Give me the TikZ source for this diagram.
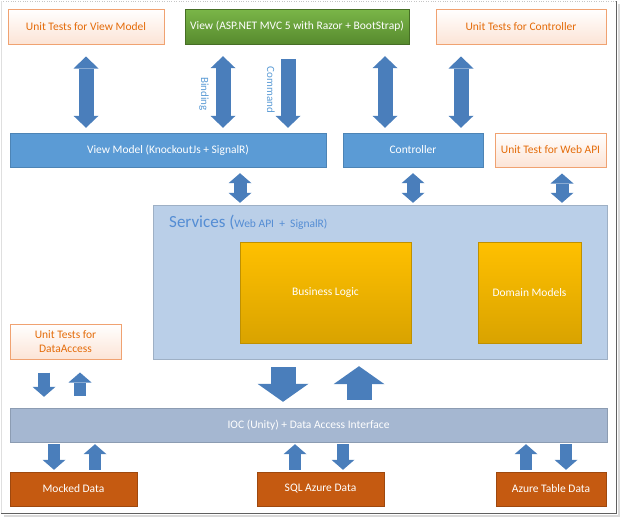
\documentclass[tikz,border=0pt]{standalone}
\usepackage{fontspec}
\setmainfont{Carlito}
\usetikzlibrary{arrows.meta,shadows}

\definecolor{arrowblue}{HTML}{4A7EBB}
\definecolor{testline}{HTML}{F0A271}
\definecolor{testfill}{HTML}{FCE4D6}
\definecolor{testtext}{HTML}{E46C0A}
\definecolor{viewtop}{HTML}{7AB648}
\definecolor{viewbot}{HTML}{578A2E}
\definecolor{barblue}{HTML}{5B9BD5}
\definecolor{servfill}{HTML}{BACFE8}
\definecolor{servtext}{HTML}{548DD4}
\definecolor{goldtop}{HTML}{FFC000}
\definecolor{goldbot}{HTML}{D9A300}
\definecolor{goldline}{HTML}{BF9000}
\definecolor{iocfill}{HTML}{A5B7D1}
\definecolor{datafill}{HTML}{C55A11}

\tikzset{
  box/.style={inner sep=1pt, align=center, font=\fontsize{11.5}{13.5}\selectfont,
    drop shadow={shadow xshift=1.2pt, shadow yshift=-1.2pt, opacity=0.35}},
  testbox/.style={box, draw=testline, line width=1pt, top color=white, bottom color=testfill, text=testtext, minimum height=35pt},
  viewbox/.style={box, draw=viewbot!80!black, top color=viewtop, bottom color=viewbot, text=white, minimum height=35pt},
  bluebar/.style={box, fill=barblue, draw=barblue!85!black, text=white, minimum height=34pt},
  servbox/.style={box, fill=servfill, draw=servfill!85!black},
  goldbox/.style={box, draw=goldline, top color=goldtop, bottom color=goldbot, text=white, minimum height=101pt},
  iocbar/.style={box, fill=iocfill, draw=iocfill!85!black, text=white, minimum height=34pt},
  databox/.style={box, fill=datafill, draw=datafill!80!black, text=white, minimum height=34pt},
  lbl/.style={text=barblue, font=\fontsize{11}{13}\selectfont, inner sep=0pt},
  dblarrow/.style={draw=arrowblue, line width=15pt,
    {Triangle[width=25pt,length=12pt,line width=0pt]}-{Triangle[width=25pt,length=12pt,line width=0pt]}},
  cmdarrow/.style={draw=arrowblue, line width=15pt, -{Triangle[width=25pt,length=12pt,line width=0pt]}},
  middbl/.style={draw=arrowblue, line width=13pt,
    {Triangle[width=23pt,length=10pt,line width=0pt]}-{Triangle[width=23pt,length=10pt,line width=0pt]}},
  smallarrow/.style={draw=arrowblue, line width=12pt, -{Triangle[width=23pt,length=10pt,line width=0pt]}},
  bigarrow/.style={draw=arrowblue, line width=25pt, -{Triangle[width=51pt,length=18pt,line width=0pt]}}
}

\begin{document}
\begin{tikzpicture}[x=1pt,y=1pt,yscale=-1,xscale=1]
\useasboundingbox (0,0) rectangle (621,520);

% Frame
\draw[gray!45, dotted] (1,1) -- (616,1);
\draw[gray!25] (1,1) -- (1,513);
\draw[gray!30, line width=2pt] (619,4) -- (619,516) -- (4,516);
\draw[gray!75!black, line width=1pt] (616,1) -- (616,513) -- (1,513);

% Top row
\node[testbox, minimum width=156pt] (utvm) at (86,26.5) {Unit Tests for View Model};
\node[viewbox, minimum width=224pt] (view) at (297,26.5) {View (ASP.NET MVC 5 with Razor + BootStrap)};
\node[testbox, minimum width=170pt] (utctrl) at (521,26.5) {Unit Tests for Controller};

% Second row
\node[bluebar, minimum width=316pt] (vm) at (168,150) {View Model (KnockoutJs + SignalR)};
\node[bluebar, minimum width=140pt] (ctrl) at (413,150) {Controller};
\node[testbox, minimum width=111pt, minimum height=34pt] (utapi) at (550.5,150) {Unit Test for Web API};

% Services
\node[servbox, minimum width=454pt, minimum height=154pt] (serv) at (380,282) {};
\node[anchor=west, text=servtext, inner sep=0pt] (servtitle) at (169,222)
  {\fontsize{17}{19}\selectfont Services (\fontsize{11.5}{13.5}\selectfont Web API\ \ +\ \ SignalR)};
\node[goldbox, minimum width=171pt] (bl) at (325.5,292.5) {Business Logic};
\node[goldbox, minimum width=103pt] (dm) at (529.5,292.5) {Domain Models};
\node[testbox, minimum width=111pt] (utda) at (65.5,341.5) {Unit Tests for\\DataAccess};

% Data access
\node[iocbar, minimum width=597pt] (ioc) at (308.5,425) {IOC (Unity) + Data Access Interface};
\node[databox, minimum width=127pt] (mock) at (73.5,489) {Mocked Data};
\node[databox, minimum width=127pt] (sql) at (320.5,489) {SQL Azure Data};
\node[databox, minimum width=110pt] (table) at (551,489) {Azure Table Data};

% Arrow positions
\coordinate (bind) at ([xshift=-74pt]view.south);
\coordinate (cmd) at ([xshift=-9pt]view.south);
\coordinate (vctl) at ([xshift=-28pt]ctrl.north);
\coordinate (tctl) at ([xshift=-60pt]utctrl.south);
\coordinate (vmsv) at ([xshift=72pt]vm.south);
\coordinate (apisv) at ([xshift=11.5pt]utapi.south);
\coordinate (dadn) at ([xshift=-21.5pt]utda.south);
\coordinate (daup) at ([xshift=14.5pt]utda.south);
\coordinate (svdn) at ([xshift=-25.5pt]ioc.north);
\coordinate (svup) at ([xshift=50.5pt]ioc.north);
\coordinate (mkdn) at ([xshift=-19.5pt]mock.north);
\coordinate (mkup) at ([xshift=21.5pt]mock.north);
\coordinate (squp) at ([xshift=-25.5pt]sql.north);
\coordinate (sqdn) at ([xshift=22.5pt]sql.north);
\coordinate (tbup) at ([xshift=-25pt]table.north);
\coordinate (tbdn) at ([xshift=15pt]table.north);

% Arrows
\draw[dblarrow, shorten <=12pt, shorten >=5pt] (utvm.south) -- (utvm.south |- vm.north);
\draw[dblarrow, shorten <=12pt, shorten >=5pt] (bind) -- (bind |- vm.north);
\draw[cmdarrow, shorten <=15pt, shorten >=5pt] (cmd) -- (cmd |- vm.north);
\draw[dblarrow, shorten <=12pt, shorten >=5pt] (vctl |- view.south) -- (vctl);
\draw[dblarrow, shorten <=12pt, shorten >=5pt] (tctl) -- (tctl |- ctrl.north);
\draw[middbl, shorten <=6pt, shorten >=2pt] (vmsv) -- (vmsv |- serv.north);
\draw[middbl, shorten <=6pt, shorten >=2pt] (ctrl.south) -- (ctrl.south |- serv.north);
\draw[middbl, shorten <=6pt, shorten >=2pt] (apisv) -- (apisv |- serv.north);
\draw[smallarrow, shorten <=13pt, shorten >=11pt] (dadn) -- (dadn |- ioc.north);
\draw[smallarrow, shorten <=12pt, shorten >=13pt] (daup |- ioc.north) -- (daup);
\draw[bigarrow, shorten <=8pt, shorten >=6pt] (svdn |- serv.south) -- (svdn);
\draw[bigarrow, shorten <=8pt, shorten >=7pt] (svup) -- (svup |- serv.south);
\draw[smallarrow, shorten <=2pt, shorten >=2pt] (mkdn |- ioc.south) -- (mkdn);
\draw[smallarrow, shorten <=2pt, shorten >=2pt] (mkup) -- (mkup |- ioc.south);
\draw[smallarrow, shorten <=2pt, shorten >=2pt] (squp) -- (squp |- ioc.south);
\draw[smallarrow, shorten <=2pt, shorten >=2pt] (sqdn |- ioc.south) -- (sqdn);
\draw[smallarrow, shorten <=2pt, shorten >=2pt] (tbup) -- (tbup |- ioc.south);
\draw[smallarrow, shorten <=2pt, shorten >=2pt] (tbdn |- ioc.south) -- (tbdn);

% Labels
\node[lbl, rotate=-90] (bindlbl) at (204,94) {Binding};
\node[lbl, rotate=-90] (cmdlbl) at (271,90) {Command};

\end{tikzpicture}
\end{document}
